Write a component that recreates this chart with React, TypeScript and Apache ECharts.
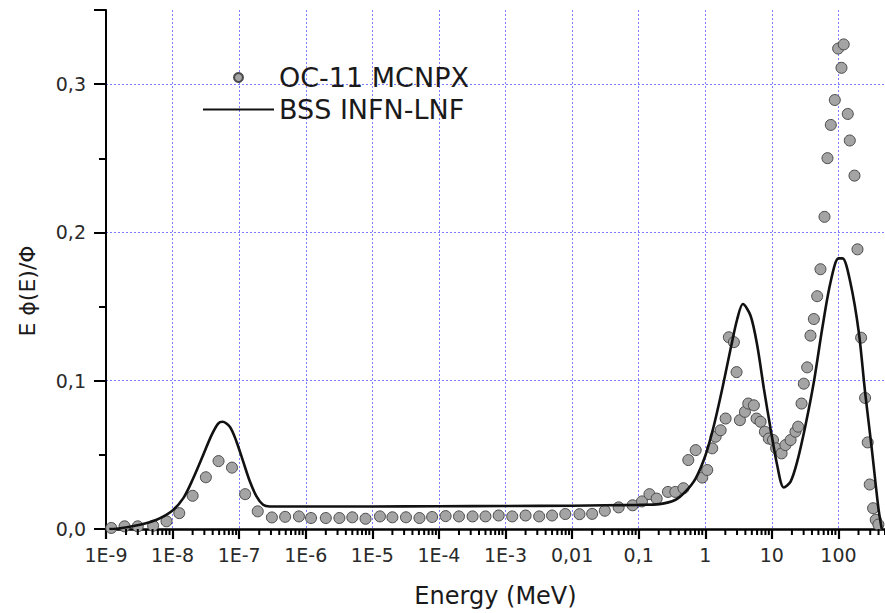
import React, { useEffect, useRef } from "react";
import * as echarts from "echarts";

// OC-11 MCNPX (scatter): energy in MeV, E·phi(E)/Phi
const mcnpxEnergy = [
  1.2e-9, 1.9e-9, 3.0e-9, 5.1e-9, 8.1e-9, 1.26e-8, 2.0e-8, 3.16e-8, 4.9e-8, 7.8e-8,
  1.23e-7, 1.9e-7, 3.1e-7, 4.9e-7, 7.9e-7, 1.2e-6, 2.0e-6, 3.2e-6, 5.0e-6, 7.9e-6,
  1.3e-5, 2.0e-5, 3.2e-5, 5.1e-5, 7.9e-5, 1.26e-4, 2.0e-4, 3.2e-4, 5.0e-4, 7.9e-4,
  1.26e-3, 2.0e-3, 3.2e-3, 5.0e-3, 7.9e-3, 0.0129, 0.02, 0.031, 0.05, 0.081,
  0.112, 0.145, 0.186, 0.275, 0.355, 0.47, 0.556, 0.718, 0.9, 1.07,
  1.27, 1.43, 1.7, 2.02, 2.26, 2.69, 2.95, 3.31, 3.94, 4.42,
  5.37, 5.89, 6.76, 7.85, 9.0, 10.4, 11.6, 14.0, 16.0, 19.1,
  22.6, 24.8, 27.9, 30.2, 33.9, 38.0, 42.7, 47.9, 53.7, 61.7,
  68.4, 76.7, 88.1, 98.9, 111, 120, 138, 148, 174, 193,
  219, 251, 275, 295, 331, 363, 398,
];
const mcnpxValue = [
  0.0007, 0.0018, 0.0018, 0.0022, 0.0052, 0.0107, 0.0224, 0.0349, 0.0458, 0.0414,
  0.0235, 0.0119, 0.0078, 0.0082, 0.0085, 0.0074, 0.0074, 0.0074, 0.0079, 0.0069,
  0.0085, 0.0079, 0.0079, 0.0074, 0.0081, 0.0087, 0.0085, 0.0085, 0.0085, 0.0091,
  0.0085, 0.0091, 0.0085, 0.0091, 0.0101, 0.01, 0.0102, 0.0123, 0.0146, 0.016,
  0.0186, 0.0235, 0.0205, 0.025, 0.025, 0.0275, 0.0465, 0.0532, 0.0347, 0.0398,
  0.0544, 0.0622, 0.0666, 0.0745, 0.1293, 0.126, 0.1058, 0.0734, 0.079, 0.0846,
  0.0834, 0.0745, 0.0723, 0.0656, 0.061, 0.06, 0.0544, 0.051, 0.0566, 0.06,
  0.0656, 0.069, 0.0846, 0.098, 0.109, 0.1304, 0.1416, 0.157, 0.1752, 0.2105,
  0.2501, 0.2725, 0.2893, 0.324, 0.311, 0.3268, 0.2799, 0.262, 0.2383, 0.1886,
  0.129, 0.0884, 0.0584, 0.03, 0.014, 0.0062, 0.003,
];

// BSS INFN-LNF (line)
const bssEnergy = [
  1.12e-9, 1.45e-9, 3.24e-9, 5.75e-9, 9.66e-9, 1.45e-8, 2.04e-8, 2.88e-8, 3.85e-8, 4.83e-8,
  5.62e-8, 7.24e-8, 9.12e-8, 1.15e-7, 1.45e-7, 1.82e-7, 2.29e-7, 2.88e-7, 1e-6, 1e-5,
  1e-4, 1e-3, 0.01, 0.0316, 0.1, 0.204, 0.359, 0.507, 0.718, 1.01,
  1.35, 1.8, 2.4, 3.02, 3.67, 4.79, 6.03, 7.59, 9.55, 12.0,
  15.1, 19.1, 24.0, 32.0, 42.7, 56.9, 75.9, 100, 115, 151,
  202, 251, 316, 398, 447,
];
const bssValue = [
  0.0, 0.0002, 0.0029, 0.0062, 0.0119, 0.0208, 0.0342, 0.0499, 0.0633, 0.0711,
  0.0723, 0.0689, 0.0589, 0.0454, 0.032, 0.022, 0.0163, 0.0152, 0.0152, 0.0152,
  0.0153, 0.0155, 0.0157, 0.016, 0.0163, 0.0168, 0.0197, 0.0253, 0.0342, 0.0499,
  0.07, 0.0946, 0.1215, 0.1416, 0.1517, 0.1438, 0.1237, 0.0946, 0.0678, 0.0432,
  0.028, 0.032, 0.0454, 0.07, 0.0991, 0.1349, 0.1662, 0.1825, 0.1825, 0.1662,
  0.1327, 0.0924, 0.0544, 0.0141, 0.0,
];

const xTickLabels = ["1E-9", "1E-8", "1E-7", "1E-6", "1E-5", "1E-4", "1E-3", "0,01", "0,1", "1", "10", "100"];
const xTickExponents = [-9, -8, -7, -6, -5, -4, -3, -2, -1, 0, 1, 2];
const yTickLabels = ["0,0", "0,1", "0,2", "0,3"];
const yTickValues = [0, 0.1, 0.2, 0.3];

const seriesNames = ["OC-11 MCNPX", "BSS INFN-LNF"];

// minor tick positions 2..9 x 10^k for the log axis
const minorMultipliers = [2, 3, 4, 5, 6, 7, 8, 9];

const FONT = "'DejaVu Sans', Verdana, sans-serif";
const GRID_COLOR = "#7c7cff";

export default function App() {
  const ref = useRef<HTMLDivElement>(null);
  useEffect(() => {
    document.body.style.margin = "0";
    const chart = echarts.init(ref.current!, undefined, { renderer: "svg" });
    const yLabel = {
      type: "text",
      x: 27,
      y: 291,
      rotation: Math.PI / 2,
      style: {
        text: "E \u03d5(E)/\u03a6",
        font: `22px ${FONT}`,
        fill: "#1a1a1a",
        align: "center",
        verticalAlign: "middle",
      },
    };
    const option: any = {
      animation: false,
      backgroundColor: "#ffffff",
      textStyle: { fontFamily: FONT },
      grid: { left: 106, right: -1, top: 10, bottom: 82, containLabel: false },
      legend: {
        orient: "vertical",
        left: 197,
        top: 59,
        itemWidth: 71,
        itemHeight: 9,
        itemGap: 5,
        data: [
          { name: seriesNames[0] },
          { name: seriesNames[1], itemStyle: { opacity: 0 } },
        ],
        selectedMode: false,
        textStyle: { fontFamily: FONT, fontSize: 27, color: "#1a1a1a" },
      },
      xAxis: {
        type: "log",
        logBase: 10,
        min: 1e-9,
        max: 500,
        interval: 1,
        splitNumber: 12,
        name: "Energy (MeV)",
        nameLocation: "middle",
        nameGap: 55,
        nameTextStyle: { fontFamily: FONT, fontSize: 24, color: "#1a1a1a" },
        axisLine: { show: true, lineStyle: { color: "#000", width: 2.5 } },
        axisTick: { show: true, inside: false, length: 10, lineStyle: { color: "#000", width: 2.2 } },
        axisLabel: {
          margin: 16,
          fontFamily: FONT,
          fontSize: 19,
          color: "#2a2a2a",
          showMaxLabel: false,
          formatter: (v: number) => {
            const e = Math.log10(v);
            const k = Math.round(e);
            if (Math.abs(e - k) > 1e-6) return "";
            const i = xTickExponents.indexOf(k);
            return i >= 0 ? xTickLabels[i] : "";
          },
        },
        splitLine: { show: true, lineStyle: { color: GRID_COLOR, width: 1, type: [2, 2] } },
      },
      yAxis: {
        type: "value",
        min: 0,
        max: 0.35,
        interval: 0.1,
        axisLine: { show: true, lineStyle: { color: "#000", width: 2 } },
        axisTick: { show: true, inside: false, length: 12, lineStyle: { color: "#000", width: 2 } },
        minorTick: { show: true, splitNumber: 2, length: 7, lineStyle: { color: "#000", width: 2 } },
        axisLabel: {
          margin: 20,
          fontFamily: FONT,
          fontSize: 19,
          color: "#2a2a2a",
          formatter: (v: number) => {
            const i = yTickValues.findIndex((t) => Math.abs(t - v) < 1e-6);
            return i >= 0 ? yTickLabels[i] : "";
          },
        },
        splitLine: {
          show: true,
          showMinLine: false,
          showMaxLine: false,
          lineStyle: { color: GRID_COLOR, width: 1, type: [2, 2] },
        },
      },
      graphic: [yLabel],
      series: [
        {
          name: seriesNames[0],
          type: "scatter",
          data: mcnpxEnergy.map((e, i) => [e, mcnpxValue[i]]),
          symbol: "circle",
          symbolSize: 11,
          itemStyle: { color: "#a4a4a4", borderColor: "#4a4a4a", borderWidth: 1, opacity: 1 },
          z: 3,
        },
        {
          name: seriesNames[1],
          type: "line",
          data: bssEnergy.map((e, i) => [e, bssValue[i]]),
          showSymbol: false,
          symbol: "none",
          smooth: 0.3,
          lineStyle: { color: "#111", width: 2.6 },
          itemStyle: { color: "#111" },
          z: 4,
        },
      ],
    };
    chart.setOption(option);

    // minor ticks on the log axis, positioned through the axis scale
    const y0 = chart.convertToPixel({ yAxisIndex: 0 }, 0) as number;
    const ticks: any[] = [];
    for (const k of xTickExponents) {
      for (const m of minorMultipliers) {
        const v = m * Math.pow(10, k);
        if (v > 500) continue;
        const x = chart.convertToPixel({ xAxisIndex: 0 }, v) as number;
        ticks.push({
          type: "line",
          silent: true,
          z: 10,
          shape: { x1: x, y1: y0, x2: x, y2: y0 + 6 },
          style: { stroke: "#000", lineWidth: 2 },
        });
      }
    }
    chart.setOption({ graphic: [yLabel, ...ticks] });
    return () => chart.dispose();
  }, []);
  return <div ref={ref} style={{ position: "fixed", left: 0, top: 0, width: 885, height: 613 }} />;
}
